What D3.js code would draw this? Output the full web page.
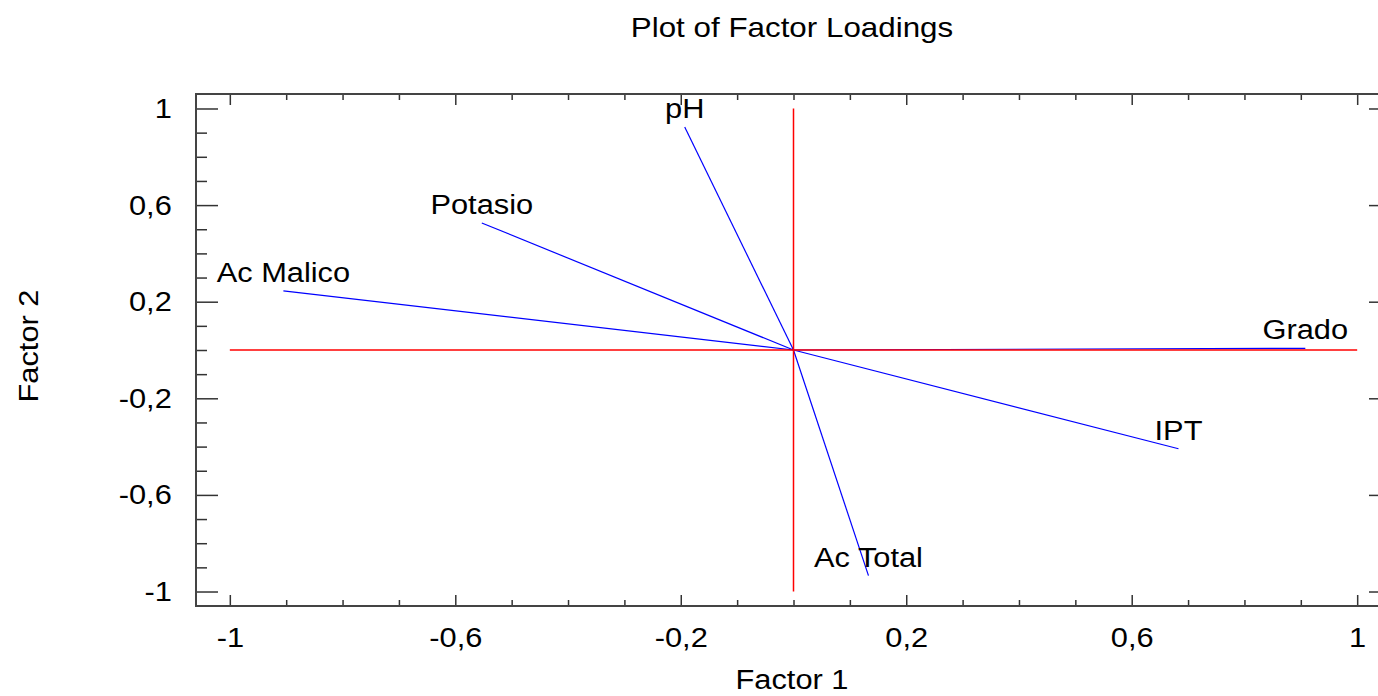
<!DOCTYPE html>
<html lang="en">
  <head>
    <meta charset="UTF-8" />
    <title>Plot of Factor Loadings</title>
    <script src="https://d3js.org/d3.v7.min.js"></script>
    <style>
      body {
        margin: 0;
        background: #fff;
      }
      svg text {
        font-family: "Liberation Sans", Arial, sans-serif;
        font-size: 28px;
        fill: #000;
      }
    </style>
  </head>
  <body>
    <svg width="1378" height="696"></svg>
    <script>
      // loadings
      const variables = ["pH", "Potasio", "Ac Malico", "Grado", "IPT", "Ac Total"];
      const factor1 = [-0.193, -0.553, -0.905, 0.908, 0.683, 0.133];
      const factor2 = [0.923, 0.526, 0.245, 0.007, -0.409, -0.934];

      const majorTicks = [-1, -0.6, -0.2, 0.2, 0.6, 1];
      const majorLabels = ["-1", "-0,6", "-0,2", "0,2", "0,6", "1"];
      const minorTicks = [-0.9, -0.8, -0.7, -0.5, -0.4, -0.3, -0.1, 0, 0.1, 0.3, 0.4, 0.5, 0.7, 0.8, 0.9];

      const svg = d3.select("svg");
      const box = { left: 196, right: 1391, top: 94, bottom: 606 };
      const stretch = "scale(1.1,1)";

      const x = d3.scaleLinear().domain([-1.06, 1.06]).range([box.left, box.right]);
      const y = d3.scaleLinear().domain([-1.06, 1.06]).range([box.bottom, box.top]);

      // minor ticks on all four sides
      const minor = [
        [d3.axisBottom(x), `translate(0,${box.bottom})`, 6],
        [d3.axisTop(x), `translate(0,${box.top})`, 6],
        [d3.axisLeft(y), `translate(${box.left},0)`, 11],
        [d3.axisRight(y), `translate(${box.right},0)`, 11]
      ];
      minor.forEach(([ax, tr, len]) => {
        svg.append("g")
          .attr("transform", tr)
          .call(ax.tickValues(minorTicks).tickSize(-len).tickFormat(""))
          .call(g => g.select(".domain").remove())
          .selectAll("line").attr("stroke", "#333").attr("stroke-width", 1.5);
      });

      const major = [
        [d3.axisBottom(x), `translate(0,${box.bottom})`, 11, true],
        [d3.axisTop(x), `translate(0,${box.top})`, 11, false],
        [d3.axisLeft(y), `translate(${box.left},0)`, 22, true],
        [d3.axisRight(y), `translate(${box.right},0)`, 22, false]
      ];
      major.forEach(([ax, tr, len, labelled]) => {
        const g = svg.append("g")
          .attr("transform", tr)
          .call(ax.tickValues(majorTicks).tickSize(-len).tickPadding(labelled ? 22 : 0)
            .tickFormat((d, i) => (labelled ? majorLabels[i] : "")))
          .call(g => g.select(".domain").remove());
        g.selectAll("line").attr("stroke", "#333").attr("stroke-width", 1.5);
        g.selectAll("text")
          .attr("font-family", null)
          .attr("font-size", null)
          .attr("fill", "#000")
          .attr("transform", stretch);
      });
      svg.selectAll(".tick text").attr("y", function () {
        return d3.select(this).attr("y") === null ? null : 21;
      });

      // frame
      svg.append("rect")
        .attr("x", box.left)
        .attr("y", box.top)
        .attr("width", box.right - box.left)
        .attr("height", box.bottom - box.top)
        .attr("fill", "none")
        .attr("stroke", "#444")
        .attr("stroke-width", 2);

      // loading vectors
      svg.selectAll(".vec")
        .data(variables)
        .join("line")
        .attr("class", "vec")
        .attr("x1", x(0))
        .attr("y1", y(0))
        .attr("x2", (d, i) => x(factor1[i]))
        .attr("y2", (d, i) => y(factor2[i]))
        .attr("stroke", "#0000ff")
        .attr("stroke-width", 1.2);

      // red reference axes
      svg.append("line")
        .attr("x1", x(-1)).attr("x2", x(1))
        .attr("y1", y(0)).attr("y2", y(0))
        .attr("stroke", "#ff0000").attr("stroke-width", 1.5);
      svg.append("line")
        .attr("x1", x(0)).attr("x2", x(0))
        .attr("y1", y(1)).attr("y2", y(-1))
        .attr("stroke", "#ff0000").attr("stroke-width", 1.5);

      // variable names
      svg.selectAll(".lbl")
        .data(variables)
        .join("text")
        .attr("class", "lbl")
        .attr("text-anchor", "middle")
        .attr("transform", (d, i) => `translate(${x(factor1[i])},${y(factor2[i]) - 9}) ${stretch}`)
        .text(d => d);

      // titles
      svg.append("text")
        .attr("text-anchor", "middle")
        .attr("transform", `translate(792,37) scale(1.12,1)`)
        .text("Plot of Factor Loadings");
      svg.append("text")
        .attr("text-anchor", "middle")
        .attr("transform", `translate(792,689) ${stretch}`)
        .text("Factor 1");
      svg.append("text")
        .attr("text-anchor", "middle")
        .attr("transform", `translate(38,346) rotate(-90) ${stretch}`)
        .text("Factor 2");
    </script>
  </body>
</html>
